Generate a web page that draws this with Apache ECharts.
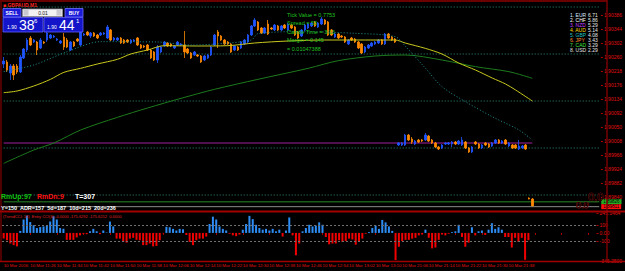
<!DOCTYPE html>
<html>
<head>
<meta charset="utf-8">
<script src="https://cdn.jsdelivr.net/npm/echarts@6.0.0/dist/echarts.min.js"></script>
<style>
html,body{margin:0;padding:0;background:#000;overflow:hidden;}
#chart{width:625px;height:271px;}
</style>
</head>
<body>
<div id="chart"></div>
<script>
// ================= DATA =================
const barCount = 179; // bars visible on the time axis (incl. right shift)
const timeLabels = ['10 Mar 2016','10 Mar 11:26','10 Mar 11:34','10 Mar 11:42','10 Mar 11:50','10 Mar 11:58','10 Mar 12:06','10 Mar 12:14','10 Mar 12:22','10 Mar 12:30','10 Mar 12:38','10 Mar 12:46','10 Mar 12:54','10 Mar 13:02','10 Mar 13:10','10 Mar 21:06','10 Mar 21:14','10 Mar 21:22','10 Mar 21:30','10 Mar 21:38'];

// OHLC candles: [open, close, low, high]
const candles = [
[1.90239,1.90248,1.90227,1.90260],[1.90245,1.90221,1.90215,1.90251],[1.90212,1.90233,1.90191,1.90239],[1.90233,1.90206,1.90191,1.90239],[1.90233,1.90215,1.90209,1.90239],
[1.90215,1.90260,1.90212,1.90266],[1.90257,1.90284,1.90254,1.90287],[1.90281,1.90311,1.90275,1.90317],[1.90317,1.90296,1.90293,1.90323],[1.90305,1.90311,1.90302,1.90314],
[1.90305,1.90281,1.90266,1.90308],[1.90287,1.90311,1.90284,1.90317],[1.90305,1.90302,1.90299,1.90308],[1.90311,1.90332,1.90305,1.90338],[1.90317,1.90326,1.90314,1.90329],
[1.90320,1.90323,1.90317,1.90326],[1.90311,1.90314,1.90308,1.90317],[1.90302,1.90308,1.90299,1.90311],[1.90320,1.90290,1.90281,1.90332],[1.90311,1.90290,1.90287,1.90317],
[1.90281,1.90305,1.90278,1.90308],[1.90305,1.90293,1.90290,1.90308],[1.90314,1.90308,1.90305,1.90317],[1.90296,1.90335,1.90293,1.90338],[1.90326,1.90329,1.90323,1.90332],
[1.90335,1.90326,1.90323,1.90338],[1.90323,1.90332,1.90317,1.90335],[1.90332,1.90323,1.90320,1.90335],[1.90326,1.90317,1.90314,1.90329],[1.90326,1.90332,1.90323,1.90335],
[1.90329,1.90332,1.90326,1.90335],[1.90317,1.90350,1.90314,1.90356],[1.90341,1.90311,1.90308,1.90344],[1.90311,1.90317,1.90308,1.90320],[1.90311,1.90317,1.90308,1.90320],
[1.90317,1.90302,1.90299,1.90320],[1.90311,1.90302,1.90299,1.90314],[1.90311,1.90305,1.90302,1.90314],[1.90302,1.90311,1.90299,1.90314],[1.90308,1.90311,1.90305,1.90314],
[1.90317,1.90296,1.90293,1.90320],[1.90296,1.90287,1.90284,1.90299],[1.90293,1.90290,1.90287,1.90296],[1.90296,1.90281,1.90278,1.90299],[1.90281,1.90257,1.90254,1.90284],
[1.90275,1.90251,1.90248,1.90278],[1.90251,1.90290,1.90242,1.90296],[1.90275,1.90290,1.90272,1.90293],[1.90293,1.90305,1.90290,1.90308],[1.90302,1.90293,1.90290,1.90305],
[1.90299,1.90293,1.90290,1.90302],[1.90287,1.90293,1.90284,1.90296],[1.90296,1.90305,1.90293,1.90308],[1.90296,1.90299,1.90293,1.90302],[1.90296,1.90275,1.90257,1.90338],
[1.90284,1.90272,1.90269,1.90287],[1.90272,1.90257,1.90254,1.90275],[1.90266,1.90275,1.90263,1.90278],[1.90266,1.90263,1.90260,1.90269],[1.90263,1.90245,1.90242,1.90266],
[1.90251,1.90263,1.90248,1.90266],[1.90257,1.90266,1.90254,1.90269],[1.90266,1.90290,1.90263,1.90293],[1.90296,1.90326,1.90293,1.90329],[1.90335,1.90323,1.90287,1.90341],
[1.90323,1.90311,1.90308,1.90326],[1.90311,1.90299,1.90296,1.90314],[1.90305,1.90299,1.90296,1.90308],[1.90299,1.90275,1.90272,1.90302],[1.90281,1.90293,1.90278,1.90296],
[1.90290,1.90281,1.90278,1.90293],[1.90287,1.90305,1.90284,1.90308],[1.90299,1.90311,1.90296,1.90314],[1.90305,1.90326,1.90302,1.90329],[1.90326,1.90353,1.90323,1.90356],
[1.90353,1.90371,1.90350,1.90377],[1.90365,1.90341,1.90338,1.90368],[1.90347,1.90332,1.90329,1.90350],[1.90332,1.90347,1.90329,1.90350],[1.90359,1.90329,1.90326,1.90371],
[1.90347,1.90344,1.90341,1.90350],[1.90341,1.90356,1.90338,1.90359],[1.90353,1.90341,1.90338,1.90356],[1.90341,1.90353,1.90338,1.90356],[1.90356,1.90347,1.90344,1.90359],
[1.90341,1.90359,1.90338,1.90362],[1.90356,1.90347,1.90344,1.90359],[1.90350,1.90326,1.90323,1.90353],[1.90335,1.90317,1.90314,1.90338],[1.90323,1.90341,1.90320,1.90344],
[1.90341,1.90356,1.90338,1.90359],[1.90347,1.90359,1.90344,1.90362],[1.90353,1.90362,1.90350,1.90365],[1.90365,1.90353,1.90350,1.90368],[1.90350,1.90362,1.90347,1.90365],
[1.90359,1.90374,1.90356,1.90380],[1.90371,1.90359,1.90356,1.90374],[1.90365,1.90326,1.90323,1.90368],[1.90341,1.90326,1.90323,1.90344],[1.90320,1.90329,1.90317,1.90332],
[1.90329,1.90317,1.90314,1.90332],[1.90323,1.90320,1.90317,1.90326],[1.90320,1.90305,1.90302,1.90323],[1.90299,1.90311,1.90296,1.90314],[1.90317,1.90311,1.90308,1.90320],
[1.90314,1.90305,1.90302,1.90317],[1.90305,1.90287,1.90284,1.90308],[1.90299,1.90272,1.90269,1.90302],[1.90275,1.90290,1.90272,1.90293],[1.90287,1.90296,1.90284,1.90299],
[1.90293,1.90302,1.90290,1.90305],[1.90299,1.90305,1.90296,1.90308],[1.90302,1.90311,1.90299,1.90314],[1.90311,1.90299,1.90296,1.90314],[1.90299,1.90329,1.90296,1.90332],
[1.90329,1.90317,1.90314,1.90332],[1.90320,1.90311,1.90308,1.90323],[1.90314,1.90305,1.90302,1.90317],
[1.89996,1.90002,1.89993,1.90005],[1.89996,1.90002,1.89993,1.90005],[1.89996,1.90026,1.89993,1.90029],[1.90026,1.90011,1.90008,1.90029],[1.90014,1.90005,1.89999,1.90020],
[1.89999,1.90008,1.89996,1.90011],[1.90011,1.90005,1.90002,1.90014],[1.90011,1.90008,1.90005,1.90014],[1.90011,1.90026,1.90008,1.90032],[1.90023,1.90008,1.90005,1.90026],
[1.90011,1.90002,1.89999,1.90014],[1.90002,1.89990,1.89987,1.90005],[1.89990,1.89984,1.89981,1.89993],[1.89987,1.89996,1.89984,1.89999],[1.89999,1.90002,1.89996,1.90005],
[1.89999,1.90002,1.89996,1.90005],[1.89999,1.90005,1.89990,1.90008],[1.90005,1.89999,1.89996,1.90008],[1.89999,1.90008,1.89996,1.90011],[1.89996,1.90011,1.89993,1.90020],
[1.90005,1.89987,1.89984,1.90008],[1.89987,1.89975,1.89972,1.89990],[1.89975,1.89990,1.89972,1.89993],[1.90005,1.89999,1.89996,1.90008],[1.89999,1.89987,1.89984,1.90002],
[1.89987,1.89996,1.89984,1.89999],[1.90002,1.89996,1.89993,1.90005],[1.89999,1.89990,1.89987,1.90002],[1.89993,1.90002,1.89990,1.90005],[1.90002,1.90011,1.89999,1.90014],
[1.90011,1.90002,1.89999,1.90014],[1.90002,1.90008,1.89999,1.90011],[1.90011,1.89999,1.89996,1.90014],[1.89993,1.90002,1.89990,1.90005],[1.89996,1.89987,1.89984,1.89999],
[1.89996,1.89987,1.89984,1.89999],[1.89984,1.89993,1.89981,1.90011],[1.89987,1.89993,1.89984,1.89996],[1.89996,1.89984,1.89981,1.89999],[1.89837,1.89834,1.89833,1.89839],
[1.89834,1.89813,1.89813,1.89837]
];

// TrendCCI histogram values
const cci = [
-70,-90,-130,-150,-165,25,165,213,134,95,60,72,80,87,140,205,165,60,50,-85,
-85,-85,-55,-30,-10,-15,20,50,20,-15,30,5,140,80,-70,-70,-110,-120,-70,-60,
-85,-90,-150,-150,-130,-165,-160,-90,-5,75,70,50,30,50,45,-25,-110,-150,-90,-70,
-70,-45,110,200,165,80,50,30,-10,-30,-40,-20,40,110,210,170,100,60,40,50,
30,50,20,40,-45,30,190,-30,-275,-130,20,60,100,80,90,130,100,-50,-140,-130,
-130,-90,-110,-100,-70,-80,-145,-110,-70,-10,10,60,90,50,160,130,80,25,-335,-170,
-100,-85,-85,-70,-60,-30,-20,40,-60,-190,-180,-85,-20,-30,-10,10,20,100,-50,-170,
-120,70,-30,20,30,-25,40,120,50,70,40,-50,-50,-180,-60,-110,-60,-330,-90
];

// moving averages read at sample bars: [bar, price]
const maYellow = [[0,1.90153],[4,1.90158],[9,1.90173],[14,1.90193],[18,1.90214],[23,1.90226],[28,1.90239],[34,1.90253],[38,1.90269],[43,1.90281],[48,1.90294],[58,1.90293],[67,1.90294],[75,1.90302],[85,1.90308],[96,1.90311],[105,1.90311],[117,1.90311],[120,1.90302],[126,1.90286],[131,1.90269],[136,1.90242],[141,1.90221],[146,1.90197],[150,1.90179],[153,1.90161],[158,1.90128]];
const maGreen = [[0,1.89941],[9,1.89981],[15,1.90002],[23,1.90041],[34,1.90079],[43,1.90107],[53,1.90136],[63,1.90163],[76,1.90193],[91,1.90226],[100,1.90249],[111,1.90263],[120,1.90266],[131,1.90251],[141,1.90231],[151,1.90216],[158,1.90196]];
const maTeal = [[0,1.90216],[9,1.90236],[19,1.90276],[29,1.90306],[46,1.90305],[56,1.90296],[66,1.90301],[74,1.90311],[76,1.90330],[89,1.90336],[105,1.90331],[117,1.90321],[120,1.90293],[126,1.90227],[131,1.90171],[138,1.90126],[146,1.90081],[154,1.90041],[158,1.90011]];

const levelLines = [1.90410, 1.90269, 1.90128, 1.89987, 1.89846];
const magentaLevel = 1.90002;
const bidPrice = 1.89826;
const askPrice = 1.89811;

const cciTicks = [245.1464, 100, 0, -100, -345.25];
const cciTickText = ['245.1464', '100', '0.00', '-100', '-345.2500'];

const strengthNames = ['1. EUR','2. CHF','3. NZD','4. AUD','5. GBP','6. JPY','7. CAD','8. USD'];
const strengthValues = ['6.71','5.86','5.29','5.14','4.08','3.43','3.29','2.29'];
const infoLines = ['Tick Value = 0.7753','Spread = 55','Candle Time = 3:13','Margin = 0.145','= 0.01047388'];

// ================= CHART =================
const FONT = '"Liberation Sans", Arial, sans-serif';
const RED = '#e01010';
const chart = echarts.init(document.getElementById('chart'), null, {renderer: 'svg', width: 625, height: 271});
const cats = Array.from({length: barCount}, (_, i) => String(i));
const lastBar = barCount - 1;

const strengthColors = ['#d8e8ff','#ffffff','#c040ff','#ffd800','#20c0c0','#ff9030','#40e040','#e0e0e0'];

function txt(x, y, text, fill, font, extra) {
  return Object.assign({type: 'text', x: x, y: y, silent: true, z: 100,
    style: Object.assign({text: text, fill: fill, font: font, align: 'left', verticalAlign: 'middle'}, extra || {})});
}
function line(x1, y1, x2, y2, color, w) {
  return {type: 'line', silent: true, z: 90, shape: {x1: x1, y1: y1, x2: x2, y2: y2}, style: {stroke: color, lineWidth: w}};
}

const graphics = [
  // frame
  line(0, 1, 607, 1, '#6a0000', 2),
  line(1, 0, 1, 262, '#6a0000', 1.5),
  line(607, 0, 607, 262, '#7a0000', 1.5),
  line(0, 211.5, 625, 211.5, '#a00000', 2),
  line(0, 261.5, 625, 261.5, '#a00000', 1.5),
  // title
  txt(3, 5, '\u25A0 GBPAUD,M1', '#ff2020', 'bold 5px ' + FONT),
  // one-click panel
  {type: 'rect', silent: true, z: 95, shape: {x: 3, y: 8.5, width: 18, height: 8.5}, style: {fill: '#1c1cd8', stroke: '#7070ff', lineWidth: 0.8}},
  txt(12, 12.8, 'SELL', '#ffffff', 'bold 5px ' + FONT, {align: 'center'}),
  {type: 'rect', silent: true, z: 95, shape: {x: 22.5, y: 9, width: 40, height: 7.5}, style: {fill: '#f2f2f2', stroke: '#9090a0', lineWidth: 0.8}},
  {type: 'rect', silent: true, z: 96, shape: {x: 23.5, y: 10, width: 5, height: 5.5}, style: {fill: '#c8c8d0'}},
  {type: 'rect', silent: true, z: 96, shape: {x: 56.5, y: 10, width: 5, height: 5.5}, style: {fill: '#c8c8d0'}},
  txt(43, 12.8, '0.01', '#202020', '5px ' + FONT, {align: 'center'}),
  {type: 'rect', silent: true, z: 95, shape: {x: 65, y: 8.5, width: 18, height: 8.5}, style: {fill: '#1c1cd8', stroke: '#7070ff', lineWidth: 0.8}},
  txt(74, 12.8, 'BUY', '#ffffff', 'bold 5px ' + FONT, {align: 'center'}),
  {type: 'rect', silent: true, z: 95, shape: {x: 3, y: 17.5, width: 40, height: 14.5}, style: {fill: '#1414c8', stroke: '#6060ff', lineWidth: 0.8}},
  {type: 'rect', silent: true, z: 95, shape: {x: 44, y: 17.5, width: 39, height: 14.5}, style: {fill: '#1414c8', stroke: '#6060ff', lineWidth: 0.8}},
  txt(7, 26.5, '1.90', '#ffffff', '5px ' + FONT),
  txt(19, 25, '38', '#ffffff', '14px ' + FONT),
  txt(34, 20.5, '6', '#ffffff', '6px ' + FONT),
  txt(47, 26.5, '1.90', '#ffffff', '5px ' + FONT),
  txt(59, 25, '44', '#ffffff', '14px ' + FONT),
  txt(76, 20.5, '1', '#ffffff', '6px ' + FONT),
  // bottom info lines of main window
  txt(1, 196, 'RmUp:97', '#10c010', 'bold 7px ' + FONT),
  txt(37, 196, 'RmDn:9', '#ff1010', 'bold 7px ' + FONT),
  txt(75, 196, 'T=307', '#ffffff', 'bold 7px ' + FONT),
  txt(1, 207.5, 'Y=150  ADR=157  5d=187  10d=215  20d=236', '#ffffff', 'bold 5.5px ' + FONT),
  txt(3, 216, '(TrendCCI: 13)  Entry CCI(6) -0.0000 -175.6292 -175.6212  0.0000', '#e02020', '4px ' + FONT),
  // 0.0 outline texts
  txt(588, 196.5, '0.0', '#000000', '11px ' + FONT, {stroke: '#c01818', lineWidth: 0.5}),
  txt(576, 205, '0.0', '#000000', '9px ' + FONT, {stroke: '#c01818', lineWidth: 0.5})
];
infoLines.forEach((t, k) => graphics.push(txt(287, [15, 23, 31.5, 40, 48.5][k], t, '#20c020', '5.5px ' + FONT)));
strengthNames.forEach((t, k) => {
  graphics.push(txt(570, 15 + k * 5, t, strengthColors[k], '5px ' + FONT));
  graphics.push(txt(588, 15 + k * 5, strengthValues[k], '#e8e8e8', '5px ' + FONT));
});

const levelSeries = levelLines.map(v => ({
  type: 'line', xAxisIndex: 0, yAxisIndex: 0, data: [[0, v], [lastBar, v]], symbol: 'none', silent: true, z: 1,
  lineStyle: {color: '#2a8f78', width: 1, type: [1, 2]}
}));
function priceLine(v, lineColor, lineWidth, boxColor) {
  return {type: 'line', xAxisIndex: 0, yAxisIndex: 0, data: [[0, v], [lastBar, v]], symbol: 'none', silent: true, z: 2,
    lineStyle: {color: lineColor, width: lineWidth},
    endLabel: {show: true, distance: 2, formatter: () => v.toFixed(5), backgroundColor: boxColor, color: '#000000',
      fontSize: 4.5, lineHeight: 4.2, fontFamily: FONT, padding: [0.4, 2]}};
}

const option = {
  backgroundColor: '#000000',
  animation: false,
  grid: [
    {left: 2, top: 1, width: 605, height: 210},
    {left: 2, top: 213, width: 605, height: 48}
  ],
  xAxis: [
    {type: 'category', gridIndex: 0, data: cats, show: false, boundaryGap: true},
    {type: 'category', gridIndex: 1, data: cats, boundaryGap: true,
      axisLine: {show: false},
      axisTick: {show: true, interval: 7, alignWithLabel: true, length: 2, lineStyle: {color: '#b00000'}},
      axisLabel: {interval: 7, align: 'left', margin: 2, color: RED, fontSize: 4.4, fontFamily: FONT,
        formatter: v => timeLabels[Number(v) / 8] || ''}}
  ],
  yAxis: [
    {type: 'value', gridIndex: 0, position: 'right', min: 1.89798, max: 1.90428, interval: 0.00042,
      splitLine: {show: false}, axisLine: {show: false},
      axisTick: {show: true, length: 2, lineStyle: {color: '#b00000'}},
      axisLabel: {color: RED, fontSize: 5, lineHeight: 4.5, fontFamily: FONT, margin: 3, showMinLabel: false, showMaxLabel: false,
        formatter: v => v.toFixed(5)}},
    {type: 'value', gridIndex: 1, position: 'right', min: -345.25, max: 245.1464,
      splitLine: {show: false}, axisLine: {show: false},
      axisTick: {show: true, customValues: cciTicks, length: 2, lineStyle: {color: '#b00000'}},
      axisLabel: {customValues: cciTicks, color: RED, fontSize: 5, fontFamily: FONT, margin: 3,
        formatter: v => { let k = cciTicks.findIndex(t => Math.abs(t - v) < 1e-6); return k >= 0 ? cciTickText[k] : ''; }}}
  ],
  series: levelSeries.concat([
    priceLine(bidPrice, '#1a5a1a', 1.5, '#22b022'),
    priceLine(askPrice, '#8a8a8a', 1, '#ff1010'),
    {type: 'candlestick', name: 'GBPAUD', xAxisIndex: 0, yAxisIndex: 0, data: candles, barWidth: 2, z: 3,
      itemStyle: {color: '#1f55ff', color0: '#ff8a00', borderColor: '#1f55ff', borderColor0: '#ff8a00', borderWidth: 0.8}},
    {type: 'line', name: 'level', xAxisIndex: 0, yAxisIndex: 0, data: [[0, magentaLevel], [158, magentaLevel]],
      symbol: 'none', lineStyle: {color: '#a020a0', width: 1}, z: 2},
    {type: 'line', name: 'MA slow', xAxisIndex: 0, yAxisIndex: 0, data: maGreen, symbol: 'none', smooth: 0.3,
      lineStyle: {color: '#1d7a1d', width: 1}, z: 4},
    {type: 'line', name: 'MA mid', xAxisIndex: 0, yAxisIndex: 0, data: maYellow, symbol: 'none', smooth: 0.3,
      lineStyle: {color: '#c8c81e', width: 1}, z: 5},
    {type: 'line', name: 'MA fast', xAxisIndex: 0, yAxisIndex: 0, data: maTeal, symbol: 'none', smooth: 0.3,
      lineStyle: {color: '#239090', width: 1, type: [1, 2]}, z: 5},
    {type: 'bar', name: 'TrendCCI', xAxisIndex: 1, yAxisIndex: 1, barWidth: 2,
      data: cci.map(v => ({value: v, itemStyle: {color: v >= 0 ? '#2d8df5' : '#f00000'}})),
      markLine: {silent: true, symbol: 'none', animation: false, label: {show: false},
        lineStyle: {type: [2, 2], color: '#707070', width: 1},
        data: [{yAxis: 100}, {yAxis: -100}]}}
  ]),
  graphic: graphics
};
chart.setOption(option);
</script>
</body>
</html>
